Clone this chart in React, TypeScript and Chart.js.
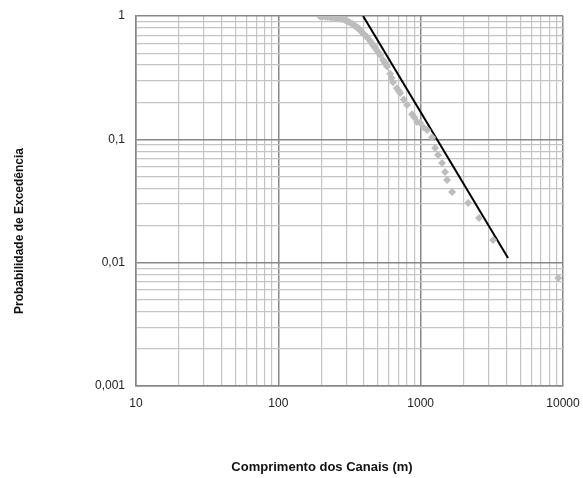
import React, { useEffect, useRef } from "react";
import { Chart, registerables } from "chart.js";

Chart.register(...registerables);

// Observed channel lengths (m) and exceedance probabilities
const channelLengths = [196, 205, 214, 222, 231, 240, 250, 261, 272, 284, 296, 308, 319, 332, 345, 355, 363, 370, 378, 387, 395, 410, 420, 440, 452, 463, 476, 490, 505, 519, 545, 560, 581, 610, 625, 640, 680, 700, 717, 760, 802, 870, 905, 943, 990, 1050, 1110, 1203, 1263, 1325, 1414, 1484, 1533, 1663, 2155, 2573, 3228, 9247];
const exceedance = [0.995, 0.99, 0.985, 0.98, 0.975, 0.968, 0.962, 0.958, 0.952, 0.94, 0.925, 0.905, 0.88, 0.86, 0.83, 0.815, 0.8, 0.78, 0.76, 0.74, 0.72, 0.69, 0.675, 0.63, 0.605, 0.58, 0.555, 0.53, 0.505, 0.483, 0.44, 0.415, 0.39, 0.34, 0.315, 0.29, 0.26, 0.248, 0.237, 0.21, 0.19, 0.16, 0.15, 0.138, 0.136, 0.125, 0.119, 0.104, 0.085, 0.0746, 0.0642, 0.0543, 0.0468, 0.0374, 0.0304, 0.023, 0.0153, 0.0075];

// Fitted power-law line (end points)
const fitLengths = [394, 4110];
const fitProb = [1, 0.0109];

// Axis labels
const xDecades = [10, 100, 1000, 10000];
const xTickLabels = ["10", "100", "1000", "10000"];
const yDecades = [0.001, 0.01, 0.1, 1];
const yTickLabels = ["0,001", "0,01", "0,1", "1"];
const xTitle = "Comprimento dos Canais (m)";
const yTitle = "Probabilidade de Excedência";

const MAJOR = "#878787";
const MINOR = "#c4c4c4";
const FONT = "'Liberation Sans', Arial, sans-serif";

function logTicks(decades: number[]) {
  const vals: number[] = [];
  for (let i = 0; i < decades.length - 1; i++) {
    for (let m = 1; m <= 9; m++) vals.push(Number((m * decades[i]).toPrecision(3)));
  }
  vals.push(decades[decades.length - 1]);
  return vals.map((v) => ({ value: v }));
}

function isDecade(v: number) {
  const l = Math.log10(v);
  return Math.abs(l - Math.round(l)) < 1e-6;
}

function labelFor(decades: number[], labels: string[], v: number) {
  const idx = decades.findIndex((d) => Math.abs(d - v) / d < 1e-6);
  return idx >= 0 ? labels[idx] : "";
}

const titlesPlugin = {
  id: "axisTitles",
  afterDraw(chart: any) {
    const ctx = chart.ctx;
    ctx.save();
    ctx.fillStyle = "#111";
    ctx.textAlign = "center";
    ctx.textBaseline = "middle";
    ctx.font = `bold 13px ${FONT}`;
    ctx.fillText(xTitle, 322, 467);
    ctx.font = `bold 12px ${FONT}`;
    ctx.translate(20, 231);
    ctx.rotate(-Math.PI / 2);
    ctx.fillText(yTitle, 0, 0);
    ctx.restore();
  },
};

export default function App() {
  const ref = useRef<HTMLCanvasElement | null>(null);

  useEffect(() => {
    if (!ref.current) return;
    const points = channelLengths.map((x, i) => ({ x, y: exceedance[i] }));
    const fit = fitLengths.map((x, i) => ({ x, y: fitProb[i] }));
    const gridColor = (c: any) => (c.tick && isDecade(c.tick.value) ? MAJOR : MINOR);
    const gridWidth = (c: any) => (c.tick && isDecade(c.tick.value) ? 1.5 : 1.2);

    const chart = new Chart(ref.current, {
      type: "scatter",
      data: {
        datasets: [
          {
            label: "Observado",
            data: points,
            pointStyle: "rectRot",
            pointRadius: 4,
            backgroundColor: "#bdbdbd",
            borderColor: "#bdbdbd",
            borderWidth: 0,
          },
          {
            label: "Ajuste",
            data: fit,
            showLine: true,
            pointRadius: 0,
            borderColor: "#000000",
            borderWidth: 2,
          },
        ],
      },
      options: {
        animation: false,
        responsive: false,
        layout: { padding: { top: 16, right: 20, left: 0, bottom: 0 } },
        plugins: { legend: { display: false }, tooltip: { enabled: false } },
        scales: {
          x: {
            type: "logarithmic",
            min: 10,
            max: 10000,
            afterBuildTicks: (s: any) => {
              s.ticks = logTicks(xDecades);
            },
            afterFit: (s: any) => {
              s.height = 92;
              s.paddingRight = 0;
              s.paddingLeft = 0;
            },
            ticks: {
              autoSkip: false,
              maxRotation: 0,
              padding: 10,
              color: "#222",
              font: { family: FONT, size: 12 },
              callback: (v: any) => labelFor(xDecades, xTickLabels, Number(v)),
            },
            grid: { color: gridColor, lineWidth: gridWidth, drawTicks: false },
            border: { color: MAJOR, width: 1.5 },
          },
          y: {
            type: "logarithmic",
            min: 0.001,
            max: 1,
            afterBuildTicks: (s: any) => {
              s.ticks = logTicks(yDecades);
            },
            afterFit: (s: any) => {
              s.width = 136;
              s.paddingTop = 0;
              s.paddingBottom = 0;
            },
            ticks: {
              autoSkip: false,
              padding: 11,
              color: "#222",
              font: { family: FONT, size: 12 },
              callback: (v: any) => labelFor(yDecades, yTickLabels, Number(v)),
            },
            grid: { color: gridColor, lineWidth: gridWidth, drawTicks: false },
            border: { color: MAJOR, width: 1.5 },
          },
        },
      } as any,
      plugins: [titlesPlugin],
    });
    return () => chart.destroy();
  }, []);

  return (
    <div style={{ position: "fixed", left: 0, top: 0, width: 583, height: 478, background: "#fff" }}>
      <canvas ref={ref} width={583} height={478} />
    </div>
  );
}
